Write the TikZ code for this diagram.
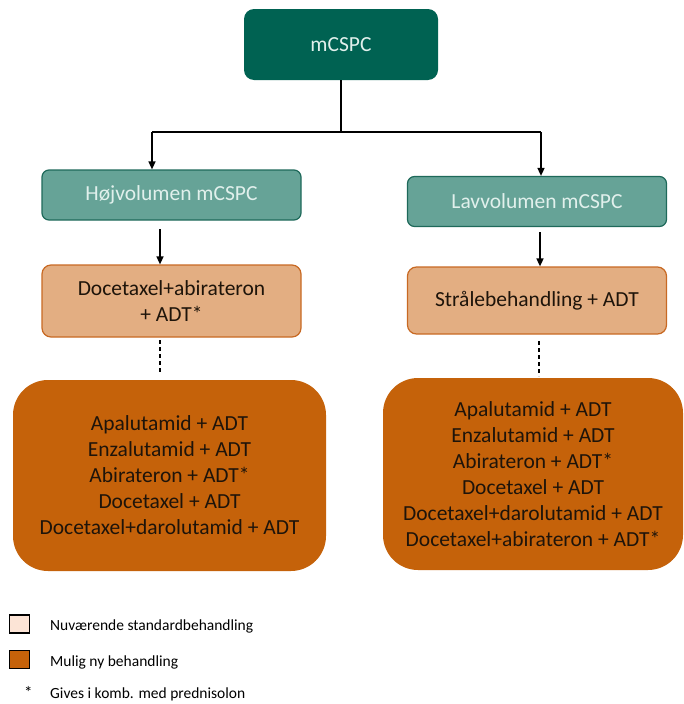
\documentclass[tikz,border=0pt]{standalone}
\usepackage{fontspec}
\setmainfont{Carlito}
\usetikzlibrary{arrows.meta}
\definecolor{dkgreen}{RGB}{0,98,82}
\definecolor{mdgreen}{RGB}{102,163,151}
\definecolor{mdgreenbd}{RGB}{30,105,90}
\definecolor{ltorange}{RGB}{227,174,130}
\definecolor{orangebd}{RGB}{200,105,35}
\definecolor{dkorange}{RGB}{197,98,10}
\definecolor{paleorange}{RGB}{252,228,214}
\definecolor{greentext}{RGB}{225,240,236}
\definecolor{boxtext}{RGB}{30,20,10}
\tikzset{
  x=1pt, y=-1pt,
  boxfont/.style={font=\fontsize{21.5}{26}\selectfont, align=center},
  topbox/.style={boxfont, fill=dkgreen, text=greentext, rounded corners=10pt, minimum width=194pt, minimum height=71pt},
  greenbox/.style={boxfont, fill=mdgreen, draw=mdgreenbd, line width=1.2pt, text=greentext, rounded corners=7pt, minimum width=259pt, minimum height=50pt},
  stdbox/.style={boxfont, fill=ltorange, draw=orangebd, line width=1.2pt, text=boxtext, rounded corners=9pt, minimum width=259pt},
  newbox/.style={boxfont, fill=dkorange, text=boxtext, rounded corners=35pt},
  conn/.style={line width=1.5pt, draw=black},
  arr/.style={conn, -{Triangle[length=8pt,width=7pt]}},
  dashline/.style={line width=1.5pt, dash pattern=on 4pt off 3pt},
  legsq/.style={draw=black, line width=1.2pt, minimum width=20pt, minimum height=18pt, inner sep=0pt},
  legtext/.style={font=\fontsize{15.5}{18}\selectfont, text=black, anchor=west, inner sep=0pt}
}
\begin{document}
\begin{tikzpicture}
\useasboundingbox (0,0) rectangle (683,704);
\node[topbox] (top) at (341,44.5) {mCSPC};
\node[greenbox] (hv) at (171.5,195) {Højvolumen mCSPC};
\node[greenbox] (lv) at (537,201.5) {Lavvolumen mCSPC};
\node[stdbox, minimum height=72pt] (hstd) at (171.5,301) {Docetaxel+abirateron\\+ ADT*};
\node[stdbox, minimum height=67pt] (lstd) at (537,300.5) {Strålebehandling + ADT};
\node[newbox, minimum width=313pt, minimum height=191pt] (hnew) at (169.5,475.5) {Apalutamid + ADT\\Enzalutamid + ADT\\Abirateron + ADT*\\Docetaxel + ADT\\Docetaxel+darolutamid + ADT};
\node[newbox, minimum width=300pt, minimum height=192pt] (lnew) at (533,474) {Apalutamid + ADT\\Enzalutamid + ADT\\Abirateron + ADT*\\Docetaxel + ADT\\Docetaxel+darolutamid + ADT\\Docetaxel+abirateron + ADT*};
\coordinate (j) at (341,132);
\coordinate (jl) at (152,132);
\coordinate (jr) at (541,132);
\coordinate (a1s) at (160,229);
\coordinate (a2s) at (540,232);
\coordinate (d1s) at (160,340);
\coordinate (d1e) at (160,373);
\coordinate (d2s) at (539,341);
\coordinate (d2e) at (539,376);
\draw[conn] (top.south) -- (j);
\draw[conn] (jl) -- (jr);
\draw[arr] (jl) -- (jl |- hv.north);
\draw[arr] (jr) -- (jr |- lv.north);
\draw[arr] (a1s) -- (a1s |- hstd.north);
\draw[arr] (a2s) -- (a2s |- lstd.north);
\draw[dashline] (d1s) -- (d1e);
\draw[dashline] (d2s) -- (d2e);
\node[legsq, fill=paleorange] (l1) at (19.5,624) {};
\node[legsq, fill=dkorange] (l2) at (19.5,659.5) {};
\node[legtext] (t1) at (50,626) {Nuværende standardbehandling};
\node[legtext] (t2) at (50,662) {Mulig ny behandling};
\node[legtext, font=\fontsize{17}{17}\selectfont] (st) at (24,692) {*};
\node[legtext] (t3) at (50,694) {Gives i komb. med prednisolon};
\end{tikzpicture}
\end{document}
